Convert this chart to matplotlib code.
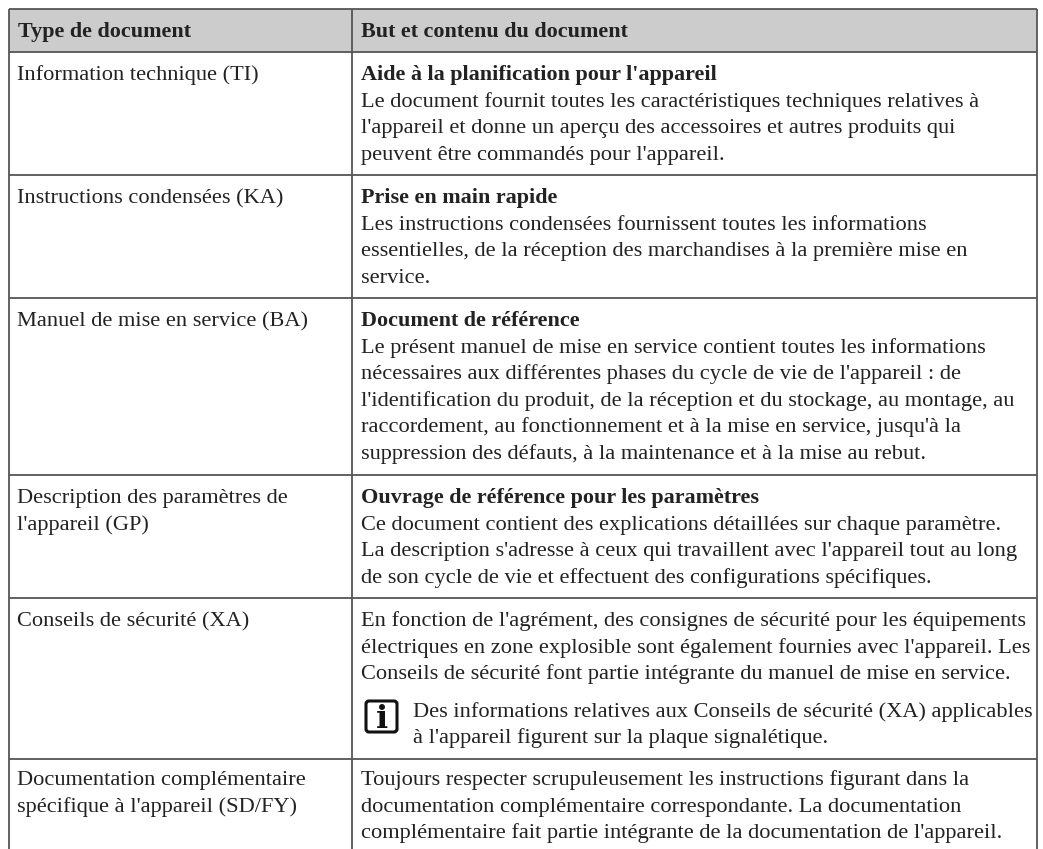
import matplotlib
matplotlib.use("Agg")
import matplotlib.pyplot as plt
from matplotlib.patches import Rectangle, FancyBboxPatch

W, H = 1043, 849
FONT = "Liberation Serif"
FS = 16.1
FS_BOLD = 15.95
LH = 26.6

headers = ["Type de document", "But et contenu du document"]
row_lines = [9, 52, 175, 298, 475, 598, 759]
col_lines = [9, 352, 1037]
left_cells = [
    ["Information technique (TI)"],
    ["Instructions condensées (KA)"],
    ["Manuel de mise en service (BA)"],
    ["Description des paramètres de", "l'appareil (GP)"],
    ["Conseils de sécurité (XA)"],
    ["Documentation complémentaire", "spécifique à l'appareil (SD/FY)"],
]
titles = [
    "Aide à la planification pour l'appareil",
    "Prise en main rapide",
    "Document de référence",
    "Ouvrage de référence pour les paramètres",
    None,
    None,
]
bodies = [
    ["Le document fournit toutes les caractéristiques techniques relatives à",
     "l'appareil et donne un aperçu des accessoires et autres produits qui",
     "peuvent être commandés pour l'appareil."],
    ["Les instructions condensées fournissent toutes les informations",
     "essentielles, de la réception des marchandises à la première mise en",
     "service."],
    ["Le présent manuel de mise en service contient toutes les informations",
     "nécessaires aux différentes phases du cycle de vie de l'appareil : de",
     "l'identification du produit, de la réception et du stockage, au montage, au",
     "raccordement, au fonctionnement et à la mise en service, jusqu'à la",
     "suppression des défauts, à la maintenance et à la mise au rebut."],
    ["Ce document contient des explications détaillées sur chaque paramètre.",
     "La description s'adresse à ceux qui travaillent avec l'appareil tout au long",
     "de son cycle de vie et effectuent des configurations spécifiques."],
    ["En fonction de l'agrément, des consignes de sécurité pour les équipements",
     "électriques en zone explosible sont également fournies avec l'appareil. Les",
     "Conseils de sécurité font partie intégrante du manuel de mise en service."],
    ["Toujours respecter scrupuleusement les instructions figurant dans la",
     "documentation complémentaire correspondante. La documentation",
     "complémentaire fait partie intégrante de la documentation de l'appareil."],
]
note = ["Des informations relatives aux Conseils de sécurité (XA) applicables",
        "à l'appareil figurent sur la plaque signalétique."]

fig = plt.figure(figsize=(W / 100, H / 100), dpi=100)
ax = fig.add_axes([0, 0, 1, 1])
ax.set_xlim(0, W)
ax.set_ylim(H, 0)
ax.axis("off")
TC = "#222222"
LC = "#555555"

ax.add_patch(Rectangle((col_lines[0], row_lines[0]), col_lines[2] - col_lines[0],
                       row_lines[1] - row_lines[0], fc="#cccccc", ec="none"))
for y in row_lines:
    ax.plot([col_lines[0], col_lines[2]], [y, y], color=LC, lw=1.3, solid_capstyle="butt")
for x in col_lines:
    ax.plot([x, x], [row_lines[0], H], color=LC, lw=1.3, solid_capstyle="butt")

def put(x, y, s, bold=False):
    ax.text(x, y, s, family=FONT, fontsize=FS_BOLD if bold else FS, color=TC, ha="left",
            va="baseline", weight="bold" if bold else "normal")

put(18, 37, headers[0], bold=True)
put(361, 37, headers[1], bold=True)
for i, lines in enumerate(left_cells):
    y = row_lines[i + 1] + (26 if i == 5 else 28)
    for j, s in enumerate(lines):
        put(17, y + j * LH, s)
for i in range(6):
    y = row_lines[i + 1] + (26 if i == 5 else 28)
    if titles[i]:
        put(361, y, titles[i], bold=True)
        y += LH
    for s in bodies[i]:
        put(361, y, s)
        y += LH

# note block with info icon
ny = 717
for j, s in enumerate(note):
    put(413, ny + j * 26, s)
ax.add_patch(FancyBboxPatch((366, 701), 31, 31, boxstyle="round,pad=0,rounding_size=3",
                            fc="white", ec="#111111", lw=2.2))
ax.text(381.5, 728, "i", family="DejaVu Serif", weight="bold", fontsize=23, color="#111111",
        ha="center", va="baseline")

fig.savefig("out.png", dpi=100)
